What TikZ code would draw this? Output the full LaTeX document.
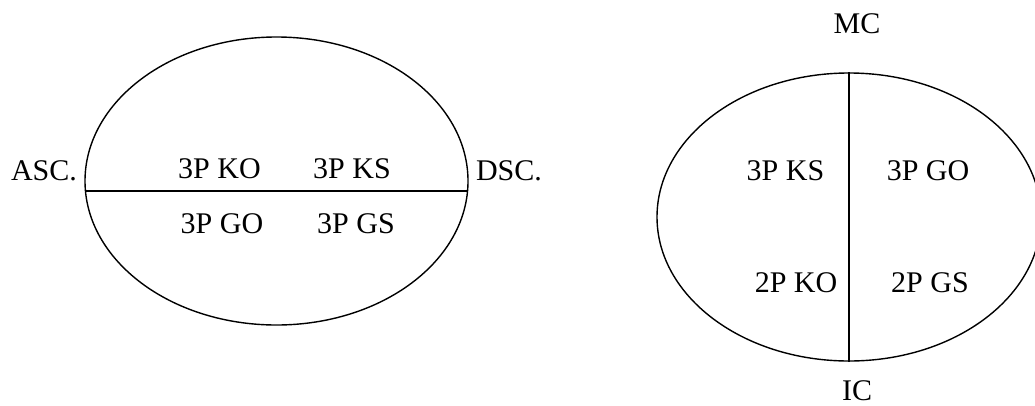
\documentclass[tikz,border=0pt]{standalone}
\usepackage{fontspec}
\setmainfont{Liberation Serif}
\usepackage{tikz}
\usetikzlibrary{shapes}
\tikzstyle{chart} = [ellipse, draw=black, line width=1.4pt, inner sep=0pt]
\tikzstyle{sign} = [anchor=base, inner sep=0pt, font=\fontsize{30}{36}\selectfont]
\tikzstyle{divide} = [draw=black, line width=1.4pt]

\begin{document}
\begin{tikzpicture}[x=1pt, y=-1pt]
        \useasboundingbox (0,0) rectangle (1035,405);
        % left chart
        \node (Hor) [chart, minimum width=383pt, minimum height=288pt] at (276.5,181) {};
        \path [divide] (Hor.183.3) -- (Hor.-3.3);
        \node (Asc) [sign] at (44,180) {ASC.};
        \node (Dsc) [sign] at (509,180) {DSC.};
        \node (KOa) [sign] at (219.5,178) {3P KO};
        \node (KSa) [sign] at (352,178) {3P KS};
        \node (GOa) [sign] at (222,233) {3P GO};
        \node (GSa) [sign] at (356,233) {3P GS};

        % right chart
        \node (Mer) [chart, minimum width=384pt, minimum height=288pt] at (849,217) {};
        \path [divide] (Mer.north) -- (Mer.south);
        \node (MC) [sign] at (857,33) {MC};
        \node (IC) [sign] at (857,400) {IC};
        \node (KSb) [sign] at (785.5,180) {3P KS};
        \node (GOb) [sign] at (928,180) {3P GO};
        \node (KOb) [sign] at (796,292) {2P KO};
        \node (GSb) [sign] at (930,292) {2P GS};
    \end{tikzpicture}
\end{document}
